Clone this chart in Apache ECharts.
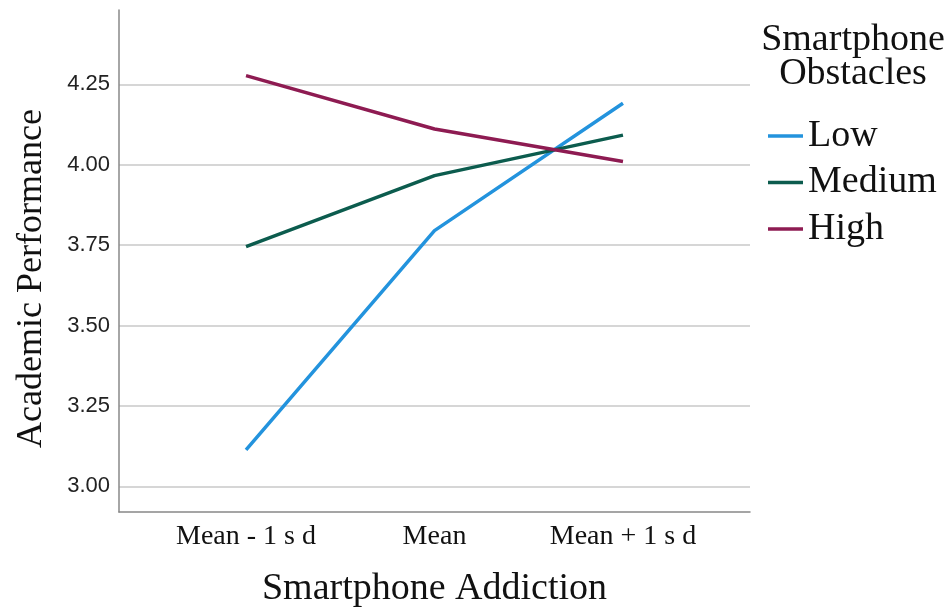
<!DOCTYPE html>
<html><head><meta charset="utf-8">
<script src="https://cdn.jsdelivr.net/npm/echarts@6/dist/echarts.min.js"></script>
<style>html,body{margin:0;padding:0;background:#fff}#c{width:950px;height:613px}</style>
</head><body><div id="c"></div>
<script>
const categories = ['Mean - 1 s d', 'Mean', 'Mean + 1 s d'];
const seriesNames = ['Low', 'Medium', 'High'];
const lowValues = [3.113, 3.795, 4.191];
const mediumValues = [3.745, 3.966, 4.092];
const highValues = [4.277, 4.111, 4.010];
const yTicks = [3.00, 3.25, 3.50, 3.75, 4.00, 4.25];
const colors = ['#2393dd', '#0c5c4e', '#8e1b52'];

const allValues = [lowValues, mediumValues, highValues];
const chart = echarts.init(document.getElementById('c'));
chart.setOption({
  animation: false,
  backgroundColor: '#fff',
  grid: { left: 119, right: 200, top: 10, bottom: 100, containLabel: false },
  xAxis: {
    type: 'value', min: -0.674, max: 2.674,
    name: 'Smartphone Addiction', nameLocation: 'middle', nameGap: 58,
    nameTextStyle: { fontFamily: 'Liberation Serif', fontSize: 38, color: '#111' },
    axisLine: { show: true, onZero: false, lineStyle: { color: '#888', width: 1.5 } },
    axisTick: { show: false, customValues: [0, 1, 2] },
    splitLine: { show: false },
    axisLabel: {
      customValues: [0, 1, 2], margin: 11,
      formatter: v => categories[Math.round(v)],
      fontFamily: 'Liberation Serif', fontSize: 28, color: '#111'
    }
  },
  yAxis: {
    type: 'value', min: 2.92, max: 4.481,
    name: 'Academic Performance', nameLocation: 'middle', nameGap: 69,
    nameTextStyle: { fontFamily: 'Liberation Serif', fontSize: 36, color: '#111', padding: [0, 35, 0, 0] },
    axisLine: { show: true, onZero: false, lineStyle: { color: '#888', width: 1.5 } },
    axisTick: { show: false, customValues: yTicks },
    splitLine: { show: true, lineStyle: { color: '#c8c8c8', width: 1.5 } },
    axisLabel: {
      customValues: yTicks, margin: 9,
      formatter: v => v.toFixed(2),
      fontFamily: 'Liberation Sans', fontSize: 22, color: '#222'
    }
  },
  legend: {
    orient: 'vertical', left: 763, top: 112,
    icon: 'rect', itemWidth: 35, itemHeight: 3.5, itemGap: 8.5,
    textStyle: { fontFamily: 'Liberation Serif', fontSize: 38, color: '#111', lineHeight: 38 },
    data: seriesNames
  },
  graphic: [
    { type: 'text', x: 853, y: 40, style: { text: 'Smartphone', align: 'center', verticalAlign: 'middle', font: '38px "Liberation Serif"', fill: '#111' } },
    { type: 'text', x: 853, y: 74, style: { text: 'Obstacles', align: 'center', verticalAlign: 'middle', font: '38px "Liberation Serif"', fill: '#111' } }
  ],
  series: seriesNames.map((n, i) => ({
    name: n, type: 'line', symbol: 'none',
    lineStyle: { color: colors[i], width: 3.5 },
    itemStyle: { color: colors[i] },
    data: allValues[i].map((v, j) => [j, v])
  }))
});
</script></body></html>
